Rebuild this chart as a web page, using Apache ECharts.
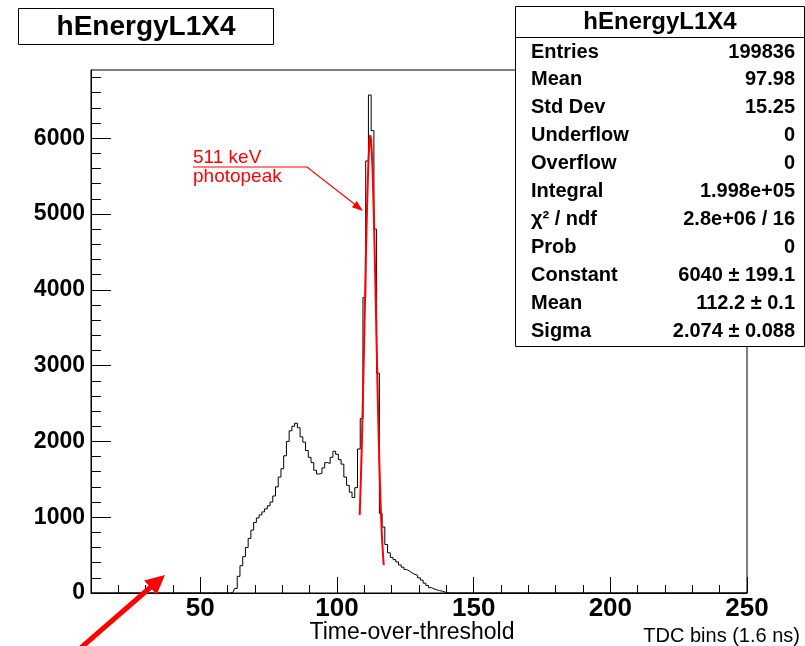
<!DOCTYPE html>
<html>
<head>
<meta charset="utf-8">
<script src="https://cdn.jsdelivr.net/npm/echarts@6/dist/echarts.min.js"></script>
<style>
html,body{margin:0;padding:0;background:#fff;}
#chart{width:805px;height:646px;}
</style>
</head>
<body>
<div id="chart"></div>
<script>
// ---- data ----
const histName = 'hEnergyL1X4';
const xRange = [10, 250];
const yRange = [0, 6900];
// bin centres (TDC bins) and counts of the histogram
const binCenters = [10, 60, 61, 62, 63, 64, 65, 66, 67, 68, 69, 70, 71, 72, 73, 74, 75, 76, 77, 78, 79,
  80, 81, 82, 83, 84, 85, 86, 87, 88, 89, 90, 91, 92, 93, 94, 95, 96, 97, 98, 99,
  100, 101, 102, 103, 104, 105, 106, 107, 108, 109, 110, 111, 112, 113, 114, 115, 116, 117, 118, 119,
  120, 121, 122, 123, 124, 125, 126, 127, 128, 129, 130, 131, 132, 133, 134, 135, 136, 137, 138, 139,
  140, 141, 142, 250];
const binCounts = [0, 0, 0, 10, 60, 220, 360, 480, 600, 720, 830, 930, 990, 1030, 1070, 1110, 1150, 1200, 1280, 1400, 1530,
  1640, 1810, 2000, 2140, 2200, 2240, 2180, 2060, 1990, 1880, 1790, 1720, 1620, 1570, 1580, 1650, 1720, 1710, 1790, 1870,
  1830, 1760, 1700, 1530, 1420, 1330, 1260, 1390, 1900, 2300, 3900, 5700, 6570, 6100, 4800, 2900, 1050, 870, 640, 530,
  470, 440, 410, 370, 340, 310, 290, 265, 245, 235, 200, 170, 130, 100, 70, 55, 42, 32, 24, 12,
  5, 0, 0, 0];
// gaussian fit curve
const fitX = [108.3, 108.5, 109, 109.5, 110, 110.5, 111, 111.5, 112, 112.2, 112.5, 113, 113.5, 114, 114.5, 115, 115.5, 116, 116.5, 117, 117.1];
const fitY = [1030, 1230, 1840, 2590, 3440, 4320, 5110, 5700, 6010, 6040, 5980, 5610, 4960, 4150, 3270, 2430, 1700, 1130, 700, 415, 370];
// tick values
const xLabelTicks = [50, 100, 150, 200, 250];
const xMinorTicks = [20, 30, 40, 60, 70, 80, 90, 110, 120, 130, 140, 160, 170, 180, 190, 210, 220, 230, 240];
const yLabelTicks = [0, 1000, 2000, 3000, 4000, 5000, 6000];
const yMinorTicks = [200, 400, 600, 800, 1200, 1400, 1600, 1800, 2200, 2400, 2600, 2800, 3200, 3400, 3600, 3800,
  4200, 4400, 4600, 4800, 5200, 5400, 5600, 5800, 6200, 6400, 6600, 6800];
// statistics box
const statLabels = ['Entries', 'Mean', 'Std Dev', 'Underflow', 'Overflow', 'Integral', 'χ² / ndf', 'Prob', 'Constant', 'Mean', 'Sigma'];
const statValues = ['199836', '97.98', '15.25', '0', '0', '1.998e+05', '2.8e+06 / 16', '0', '6040 ± 199.1', '112.2 ± 0.1', '2.074 ± 0.088'];
const xTitle = 'Time-over-threshold';
const xUnit = 'TDC bins (1.6 ns)';
const annotation = ['511 keV', 'photopeak'];

// ---- chart ----
const FONT = '"Liberation Sans", Arial, Helvetica, sans-serif';
const chart = echarts.init(document.getElementById('chart'), null, {renderer: 'canvas'});

const histData = binCenters.map((x, i) => [x, binCounts[i]]);
const fitData = fitX.map((x, i) => [x, fitY[i]]);

const graphics = [];
// title box
graphics.push({type: 'rect', z: 100, shape: {x: 18.5, y: 8.5, width: 255, height: 36},
  style: {fill: '#fff', stroke: '#000', lineWidth: 1}});
graphics.push({type: 'text', z: 101, x: 146, y: 27,
  style: {text: histName, font: 'bold 28px ' + FONT, fill: '#000', align: 'center', verticalAlign: 'middle'}});
// stats box
graphics.push({type: 'rect', z: 100, shape: {x: 515.5, y: 6.5, width: 289, height: 340},
  style: {fill: '#fff', stroke: '#000', lineWidth: 1}});
graphics.push({type: 'line', z: 101, shape: {x1: 515.5, y1: 37.5, x2: 804.5, y2: 37.5},
  style: {stroke: '#000', lineWidth: 1}});
graphics.push({type: 'text', z: 101, x: 660, y: 22,
  style: {text: histName, font: 'bold 24px ' + FONT, fill: '#000', align: 'center', verticalAlign: 'middle'}});
statLabels.forEach((lab, i) => {
  const y = 52 + i * 27.9;
  graphics.push({type: 'text', z: 101, x: 531, y: y,
    style: {text: lab, font: 'bold 20px ' + FONT, fill: '#000', align: 'left', verticalAlign: 'middle'}});
  graphics.push({type: 'text', z: 101, x: 795, y: y,
    style: {text: statValues[i], font: 'bold 20px ' + FONT, fill: '#000', align: 'right', verticalAlign: 'middle'}});
});
// axis titles
graphics.push({type: 'text', z: 101, x: 412, y: 633,
  style: {text: xTitle, font: '23px ' + FONT, fill: '#000', align: 'center', verticalAlign: 'middle'}});
graphics.push({type: 'text', z: 101, x: 800, y: 636,
  style: {text: xUnit, font: '20px ' + FONT, fill: '#000', align: 'right', verticalAlign: 'middle'}});
// photopeak annotation
graphics.push({type: 'text', z: 101, x: 193, y: 158,
  style: {text: annotation[0], font: '19px ' + FONT, fill: '#ff0000', align: 'left', verticalAlign: 'middle'}});
graphics.push({type: 'text', z: 101, x: 193, y: 177,
  style: {text: annotation[1], font: '19px ' + FONT, fill: '#ff0000', align: 'left', verticalAlign: 'middle'}});
graphics.push({type: 'polyline', z: 101, shape: {points: [[193, 167], [307, 167], [357, 206]]},
  style: {stroke: '#ff0000', lineWidth: 1.2, fill: null}});
graphics.push({type: 'polygon', z: 101, shape: {points: [[351.9, 207.3], [356.8, 201.1], [363, 211]]},
  style: {fill: '#ff0000'}});
// big red arrow at bottom left
graphics.push({type: 'line', z: 101, shape: {x1: 76, y1: 652, x2: 152, y2: 586},
  style: {stroke: '#ff0000', lineWidth: 5}});
graphics.push({type: 'polygon', z: 101, shape: {points: [[156.6, 594.8], [144.2, 580.6], [165, 575]]},
  style: {fill: '#ff0000'}});

const plain = v => String(v);
const option = {
  animation: false,
  backgroundColor: '#fff',
  grid: {left: 91, right: 58, top: 70, bottom: 53, show: true, borderColor: '#000', borderWidth: 1, backgroundColor: '#fff'},
  xAxis: [
    {type: 'value', min: xRange[0], max: xRange[1], position: 'bottom',
      axisLine: {show: true, lineStyle: {color: '#000', width: 1}},
      axisTick: {show: true, inside: true, length: 16, customValues: xLabelTicks, lineStyle: {color: '#000'}},
      axisLabel: {show: true, customValues: xLabelTicks, formatter: plain, color: '#000', fontFamily: FONT, fontWeight: 'bold', fontSize: 26, margin: 3},
      splitLine: {show: false}},
    {type: 'value', min: xRange[0], max: xRange[1], position: 'bottom',
      axisLine: {show: false},
      axisTick: {show: true, inside: true, length: 8, customValues: xMinorTicks, lineStyle: {color: '#000'}},
      axisLabel: {show: false}, splitLine: {show: false}}
  ],
  yAxis: [
    {type: 'value', min: yRange[0], max: yRange[1], position: 'left',
      axisLine: {show: true, lineStyle: {color: '#000', width: 1}},
      axisTick: {show: true, inside: true, length: 20, customValues: yLabelTicks, lineStyle: {color: '#000'}},
      axisLabel: {show: true, customValues: yLabelTicks, formatter: plain, color: '#000', fontFamily: FONT, fontWeight: 'bold', fontSize: 23, margin: 6},
      splitLine: {show: false}},
    {type: 'value', min: yRange[0], max: yRange[1], position: 'left',
      axisLine: {show: false},
      axisTick: {show: true, inside: true, length: 10, customValues: yMinorTicks, lineStyle: {color: '#000'}},
      axisLabel: {show: false}, splitLine: {show: false}}
  ],
  series: [
    {type: 'line', name: histName, xAxisIndex: 0, yAxisIndex: 0, data: histData, step: 'middle',
      showSymbol: false, symbol: 'none', lineStyle: {color: '#000', width: 1}, z: 3},
    {type: 'line', name: 'gaus', xAxisIndex: 0, yAxisIndex: 0, data: fitData,
      showSymbol: false, symbol: 'none', lineStyle: {color: '#ff0000', width: 2}, z: 4}
  ],
  graphic: graphics
};
chart.setOption(option);
</script>
</body>
</html>
